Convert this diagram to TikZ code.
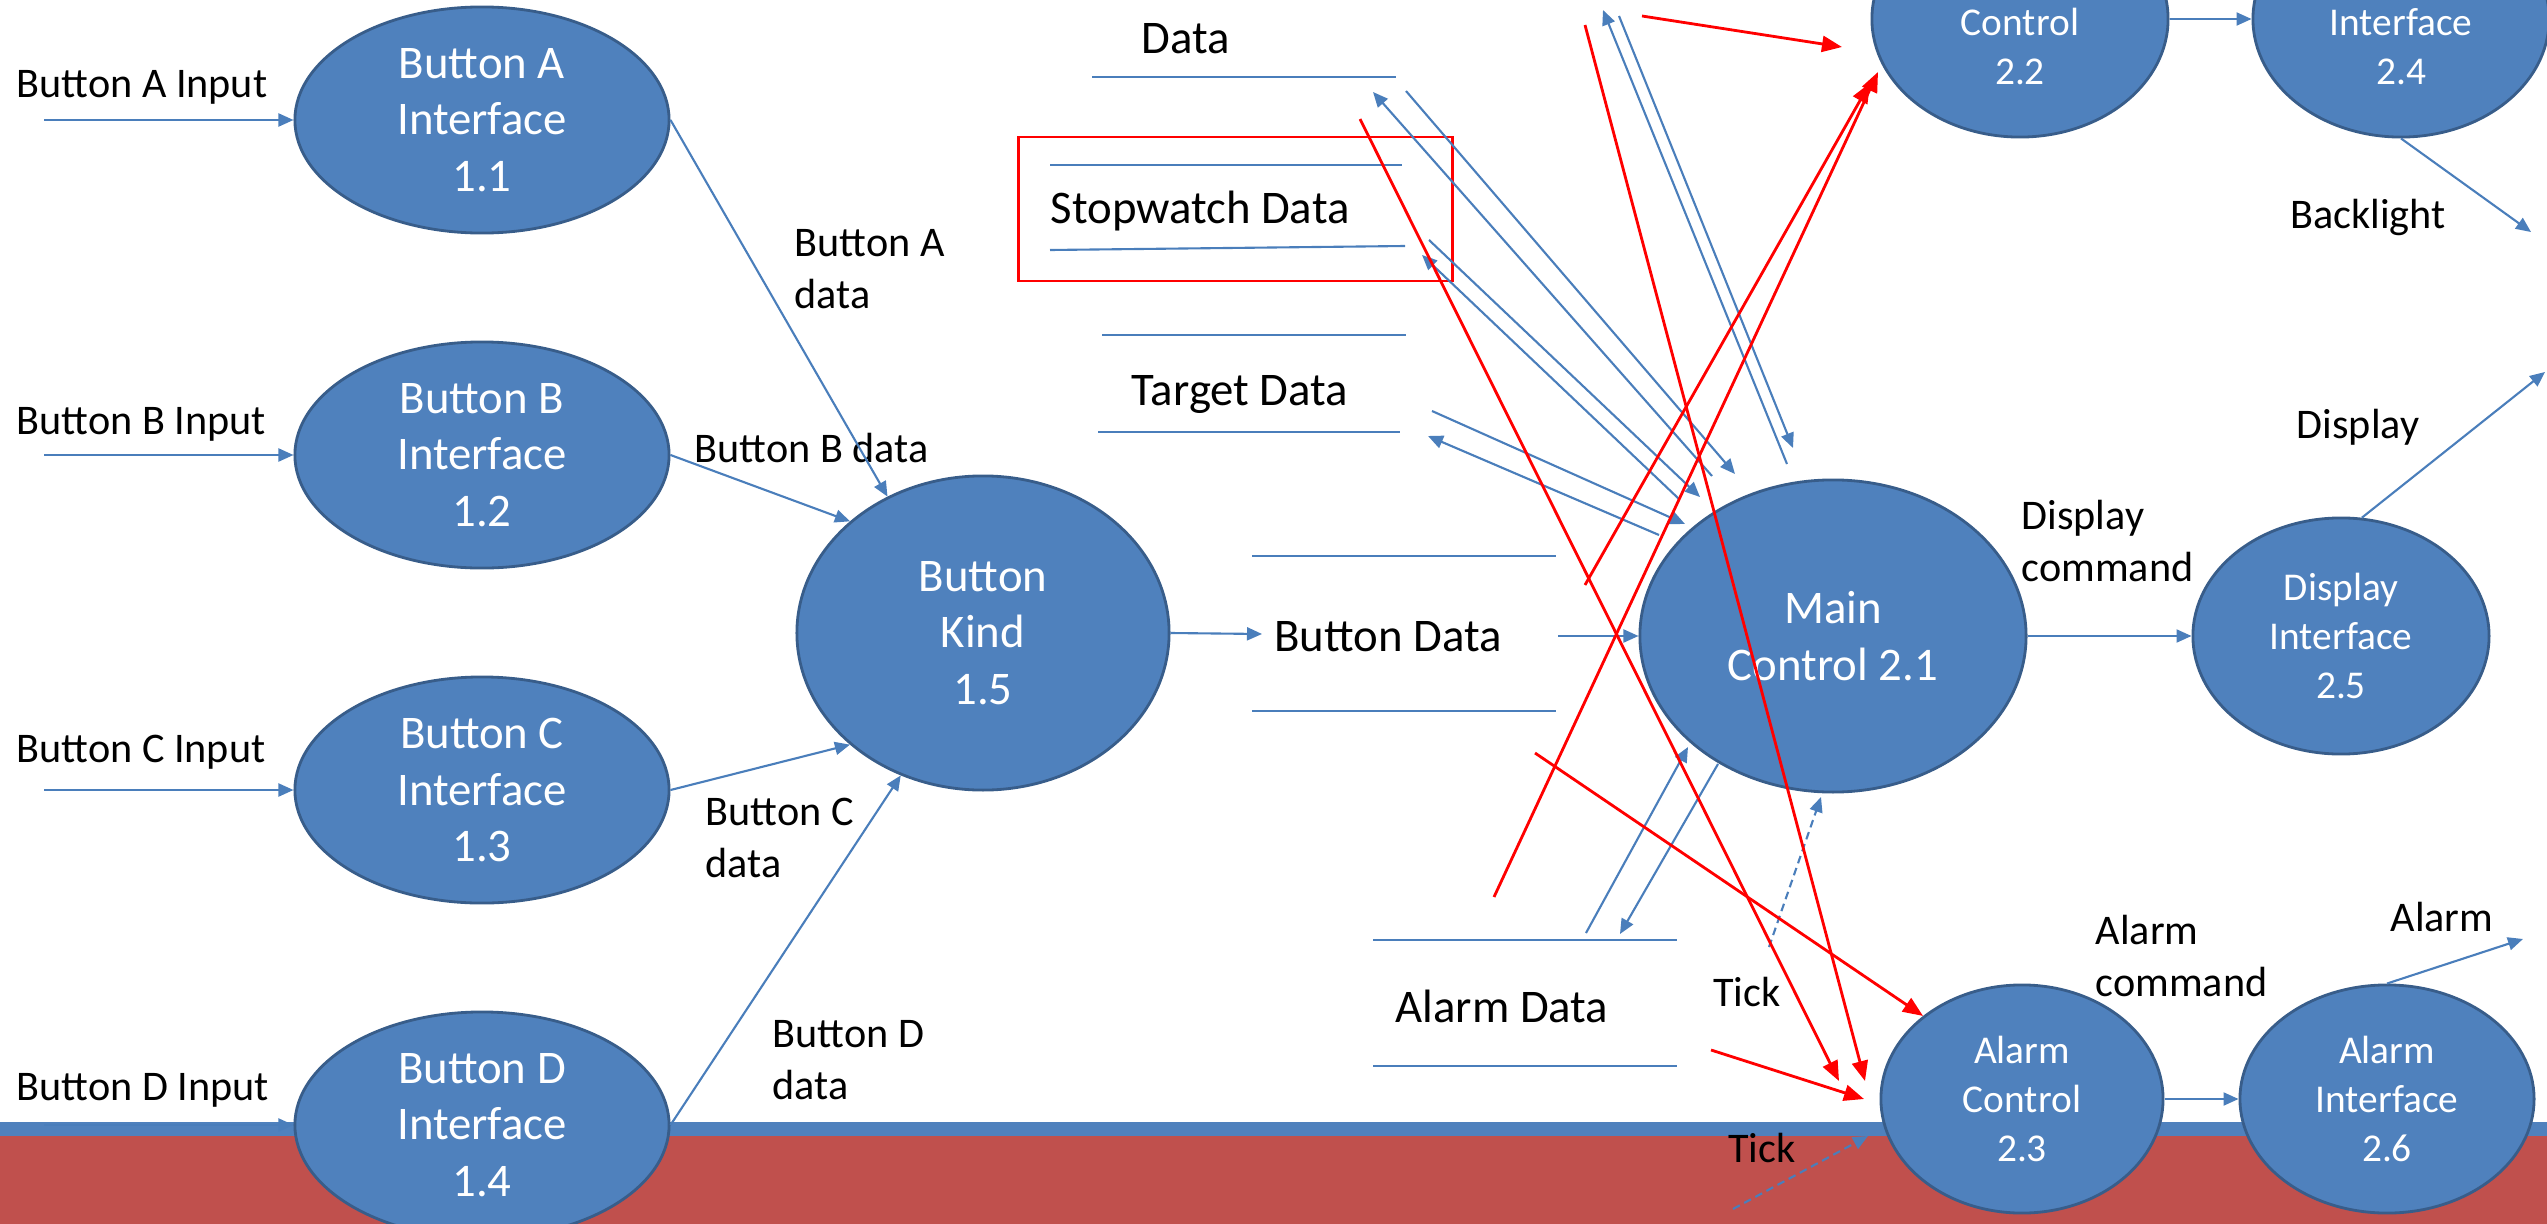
\documentclass[tikz,border=0pt]{standalone}
\usepackage{fontspec}
\setmainfont{Carlito}
\usetikzlibrary{shapes.geometric}
\usetikzlibrary{positioning}
\usetikzlibrary{arrows.meta}
\definecolor{procfill}{HTML}{4F81BD}
\definecolor{procline}{HTML}{385D8A}
\definecolor{flowblue}{HTML}{4A7EBB}
\definecolor{bandred}{HTML}{C0504D}
\newcommand{\procfont}{\fontsize{13.3}{16.1}\selectfont}
\newcommand{\subfont}{\fontsize{11.2}{13.9}\selectfont}
\newcommand{\lblfont}{\fontsize{12}{14.7}\selectfont}
\tikzstyle{proc} = [ellipse,fill=procfill,draw=procline,line width=0.8pt,text=white,align=center,inner sep=0pt,font=\procfont,minimum width=3.74cm,minimum height=2.26cm]
\tikzstyle{subproc} = [proc,font=\subfont,minimum width=2.96cm,minimum height=2.36cm]
\tikzstyle{flow} = [draw=flowblue,line width=0.6pt,-{Triangle[length=0.15cm,width=0.13cm]}]
\tikzstyle{tickflow} = [flow,dash pattern=on 2.2pt off 1.4pt]
\tikzstyle{hot} = [draw=red,line width=0.8pt,-{Triangle[length=0.2cm,width=0.16cm]}]
\tikzstyle{storeline} = [draw=flowblue,line width=0.6pt]
\tikzstyle{lbl} = [inner sep=0pt,text depth=0pt,font=\lblfont]
\tikzstyle{storelbl} = [lbl,font=\procfont]

\begin{document}
\begin{tikzpicture}[x=0.01cm, y=-0.01cm]
\useasboundingbox (0,0) rectangle (2547,1224);
\clip (0,0) rectangle (2547,1224);

% bottom band
\fill[bandred]  (0,1136) rectangle (2547,1224);
\fill[procfill] (0,1122) rectangle (2547,1136);

% Define nodes
\node[proc]                         (bA)     at (482,120)  {Button A\\Interface\\1.1};
\node[proc, below = 1.06cm of bA]   (bB)                   {Button B\\Interface\\1.2};
\node[proc, below = 1.06cm of bB]   (bC)                   {Button C\\Interface\\1.3};
\node[proc, below = 1.06cm of bC]   (bD)                   {Button D\\Interface\\1.4};
\node[proc, minimum width=3.72cm, minimum height=3.14cm] (kind) at (983,633)  {Button\\Kind\\1.5};
\node[proc, minimum width=3.86cm, minimum height=3.12cm] (main) at (1833,636) {Main\\Control 2.1};
\node[subproc]                      (disp)   at (2341,636) {Display\\Interface\\2.5};
\node[subproc]                      (ctrl)   at (2020,19)  {\strut\\Control\\2.2};
\node[subproc, right = 0.82cm of ctrl] (iface)             {\strut\\Interface\\2.4};
\node[subproc, minimum width=2.82cm, minimum height=2.28cm] (actrl) at (2022,1099) {Alarm\\Control\\2.3};
\node[subproc, minimum width=2.94cm, minimum height=2.28cm, right = 0.74cm of actrl] (aiface) {Alarm\\Interface\\2.6};

% Labels
\node[lbl, anchor=west]             (inAl)   at (16,84)    {Button A Input};
\node[lbl, anchor=west]             (inBl)   at (16,421)   {Button B Input};
\node[lbl, anchor=west]             (inCl)   at (16,749)   {Button C Input};
\node[lbl, anchor=west]             (inDl)   at (16,1087)  {Button D Input};
\node[lbl, anchor=west, align=left] (fAl)    at (794,269)  {Button A\\data};
\node[lbl, anchor=west]             (fBl)    at (694,448)  {Button B data};
\node[lbl, anchor=west, align=left] (fCl)    at (705,838)  {Button C\\data};
\node[lbl, anchor=west, align=left] (fDl)    at (772,1060) {Button D\\data};
\node[lbl]                          (tick1)  at (1747,992) {Tick};
\node[lbl]                          (tick2)  at (1762,1148) {Tick};
\node[lbl, anchor=west, align=left] (acmd)   at (2095,956) {Alarm\\command};
\node[lbl]                          (alarm)  at (2442,917) {Alarm};
\node[lbl, anchor=west, align=left] (dcmd)   at (2021,541) {Display\\command};
\node[lbl]                          (dout)   at (2358,424) {Display};
\node[lbl]                          (blight) at (2368,214) {Backlight};

% Data stores
\node[storelbl]                     (sData)   at (1186,38)   {Data};
\node[storelbl, anchor=west]        (sWatch)  at (1050,207)  {Stopwatch Data};
\node[storelbl]                     (sTarget) at (1240,390)  {Target Data};
\node[storelbl]                     (sButton) at (1388,636)  {Button Data};
\node[storelbl]                     (sAlarm)  at (1502,1006) {Alarm Data};
\draw[storeline] (1092,77) -- (1396,77);
\draw[storeline] (1050,165) -- (1402,165);
\draw[storeline] (1050,250) -- (1405,246);
\draw[storeline] (1102,335) -- (1406,335);
\draw[storeline] (1098,432) -- (1400,432);
\draw[storeline] (1252,556) -- (1556,556);
\draw[storeline] (1252,711) -- (1556,711);
\draw[storeline] (1373,940) -- (1677,940);
\draw[storeline] (1373,1066) -- (1677,1066);
\draw[red, line width=0.85pt] (1018,137) rectangle (1452,281);

% Loose ends
\coordinate (inX)     at (44,0);
\coordinate (kindOut) at (1262,634);
\coordinate (bdOut)   at (1558,636);
\coordinate (dA1) at (1406,91);   \coordinate (dA2) at (1735,474);
\coordinate (dB1) at (1712,476);  \coordinate (dB2) at (1373,92);
\coordinate (wA1) at (1429,240);  \coordinate (wA2) at (1700,497);
\coordinate (wB1) at (1679,499);  \coordinate (wB2) at (1422,255);
\coordinate (tA1) at (1432,411);  \coordinate (tA2) at (1685,524);
\coordinate (tB1) at (1659,535);  \coordinate (tB2) at (1428,436);
\coordinate (uA1) at (1619,16);   \coordinate (uA2) at (1793,448);
\coordinate (uB1) at (1787,464);  \coordinate (uB2) at (1603,10);
\coordinate (aA1) at (1586,933);  \coordinate (aA2) at (1688,747);
\coordinate (aB1) at (1718,764);  \coordinate (aB2) at (1620,934);
\coordinate (tk1a) at (1769,947); \coordinate (tk1b) at (1821,797);
\coordinate (tk2a) at (1733,1209); \coordinate (tk2b) at (1868,1136);
\coordinate (dispOut) at (2545,372);
\coordinate (blOut)   at (2531,232);
\coordinate (alOut)   at (2523,939);
\coordinate (r1a) at (1360,119);  \coordinate (r1b) at (1839,1081);
\coordinate (r2a) at (1585,25);   \coordinate (r2b) at (1865,1081);
\coordinate (r3a) at (1642,16);   \coordinate (r3b) at (1842,47);
\coordinate (r4a) at (1494,897);  \coordinate (r4b) at (1878,72);
\coordinate (r5a) at (1585,585);  \coordinate (r5b) at (1870,83);
\coordinate (r6a) at (1535,753);
\coordinate (r7a) at (1711,1050); \coordinate (r7b) at (1864,1099);

% Edges
\draw[flow] (inX |- bA) -- (bA);
\draw[flow] (inX |- bB) -- (bB);
\draw[flow] (inX |- bC) -- (bC);
\draw[flow] (inX |- bD) -- (bD);
\draw[flow] (bA.east) -- (kind.125);
\draw[flow] (bB.east) -- (kind.140);
\draw[flow] (bC.east) -- (kind.220);
\draw[flow] (bD.east) -- (kind.240);
\draw[flow] (kind.east) -- (kindOut);
\draw[flow] (bdOut) -- (bdOut -| main.west);
\draw[flow] (dA1) -- (dA2);
\draw[flow] (dB1) -- (dB2);
\draw[flow] (wA1) -- (wA2);
\draw[flow] (wB1) -- (wB2);
\draw[flow] (tA1) -- (tA2);
\draw[flow] (tB1) -- (tB2);
\draw[flow] (uA1) -- (uA2);
\draw[flow] (uB1) -- (uB2);
\draw[flow] (aA1) -- (aA2);
\draw[flow] (aB1) -- (aB2);
\draw[flow] (main.east) -- (disp.west);
\draw[flow] (disp.80) -- (dispOut);
\draw[flow] (ctrl.east) -- (iface.west);
\draw[flow] (iface.south) -- (blOut);
\draw[flow] (actrl.east) -- (aiface.west);
\draw[flow] (aiface.north) -- (alOut);
\draw[tickflow] (tk1a) -- (tk1b);
\draw[tickflow] (tk2a) -- (tk2b);

% red flows
\draw[hot] (r1a) -- (r1b);
\draw[hot] (r2a) -- (r2b);
\draw[hot] (r3a) -- (r3b);
\draw[hot] (r4a) -- (r4b);
\draw[hot] (r5a) -- (r5b);
\draw[hot] (r6a) -- (actrl.140);
\draw[hot] (r7a) -- (r7b);

\end{tikzpicture}
\end{document}
